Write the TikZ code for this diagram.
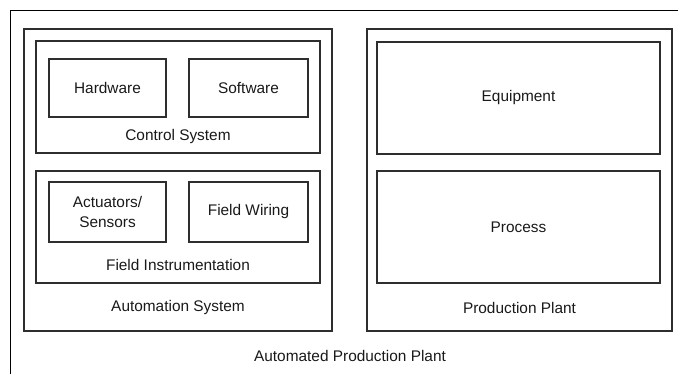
\documentclass[tikz,border=0pt]{standalone}
\usepackage{fontspec}
\setmainfont{Liberation Sans}
\usepackage{xcolor}
\usetikzlibrary{positioning}
\definecolor{edge}{HTML}{2E2E2E}

\begin{document}
\begin{tikzpicture}[x=1pt, y=-1pt,
          box/.style = {draw=edge, line width=1.3pt, minimum width=#1, inner sep=0pt},
          box/.default = 117pt,
          lbl/.style = {font=\fontsize{15.4}{18}\selectfont, text=black!90, align=center},
        ]
        \useasboundingbox (0,0) rectangle (678,373);
        \clip (0,0) rectangle (678,373);
        % outer frame, runs off the page at right and bottom
        \draw[line width=1pt] (10,400) -- (10,10) -- (700,10);

        % automation side
        \node[box=308pt, minimum height=302pt] (auto) at (178,180) {};
        \node[box=284pt, minimum height=112pt] (ctrl) at (178,97) {};
        \node[box=117pt, minimum height=58pt, lbl] (hw) at (107.5,88) {Hardware};
        \node[box=119pt, minimum height=58pt, lbl] (sw) at (248.5,88) {Software};
        \node[lbl] (ctrllbl) at (178,137) {Control System};
        \node[box=284pt, minimum height=112pt] (field) at (178,227) {};
        \node[box=117pt, minimum height=60pt, lbl] (act) at (107.5,212) {Actuators/\\[2pt]Sensors};
        \node[box=119pt, minimum height=60pt, lbl] (wire) at (248.5,212) {Field Wiring};
        \node[lbl] (fieldlbl) at (178,265) {Field Instrumentation};
        \node[lbl] (autolbl) at (178,308) {Automation System};

        % plant side
        \node[box=305pt, minimum height=302pt] (prod) at (519.5,180) {};
        \node[box=283pt, minimum height=112pt, lbl] (equip) at (518.5,98) {Equipment};
        \node[box=283pt, minimum height=112pt, lbl] (proc) at (518.5,227) {Process};
        \node[lbl] (prodlbl) at (519.5,308) {Production Plant};

        \node[lbl] (plantlbl) at (350,356) {Automated Production Plant};
      \end{tikzpicture}
\end{document}
